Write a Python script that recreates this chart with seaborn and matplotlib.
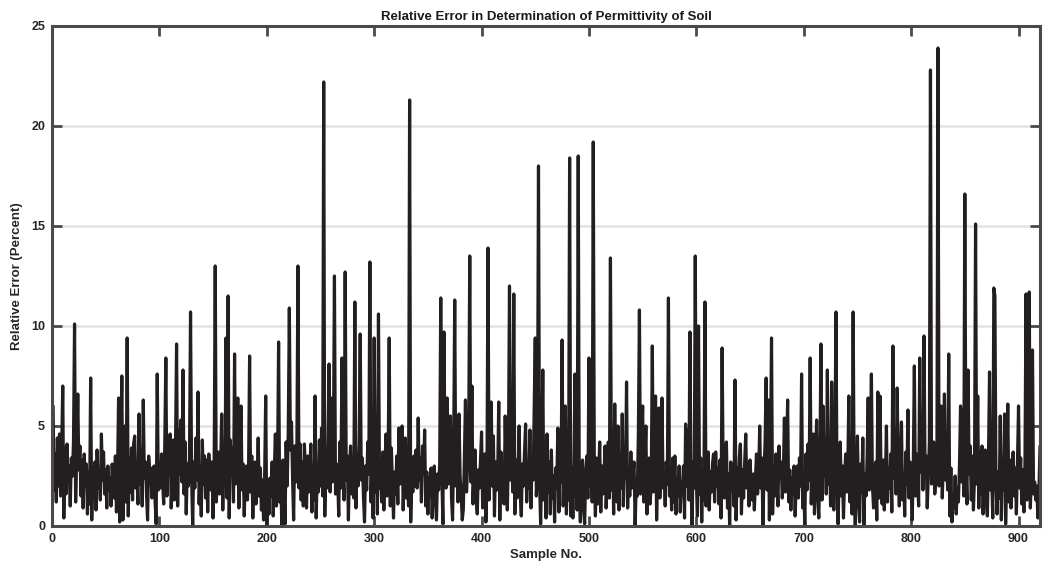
import numpy as np
import pandas as pd
import matplotlib
matplotlib.use("Agg")
import matplotlib.pyplot as plt
import seaborn as sns

title = "Relative Error in Determination of Permittivity of Soil"
x_label = "Sample No."
y_label = "Relative Error (Percent)"
x_ticks = [0, 100, 200, 300, 400, 500, 600, 700, 800, 900]
y_ticks = [0, 5, 10, 15, 20, 25]

# relative error (percent) for samples 1..920
rel_error = [
    6.0, 1.8, 3.6, 1.2, 4.4, 2.0, 4.6, 1.5, 3.8, 7.0, 0.4, 3.9, 1.6, 4.1, 2.2, 3.0, 1.0, 3.4, 2.5, 4.2,
    10.1, 1.2, 3.5, 6.6, 2.8, 4.0, 1.5, 3.3, 0.9, 3.6, 2.0, 3.1, 0.6, 2.7, 1.1, 7.4, 0.3, 2.9, 1.4, 3.2,
    0.8, 3.8, 1.9, 2.6, 1.3, 4.6, 2.3, 3.7, 1.6, 2.8, 0.9, 3.0, 1.8, 2.4, 1.0, 3.1, 2.2, 1.4, 3.5, 0.7,
    2.6, 6.4, 0.2, 3.3, 7.5, 0.3, 2.9, 5.0, 1.2, 9.4, 0.5, 3.4, 1.7, 3.9, 1.3, 4.1, 4.5, 1.9, 2.8, 1.1,
    5.6, 2.1, 3.8, 1.0, 6.3, 2.4, 3.2, 1.6, 0.3, 3.5, 2.7, 2.9, 1.4, 2.6, 3.0, 1.2, 0.1, 7.6, 1.8, 2.7,
    1.9, 3.6, 2.2, 1.1, 4.0, 8.4, 1.5, 3.3, 2.8, 4.6, 0.9, 2.5, 4.3, 1.3, 3.9, 9.1, 1.0, 4.8, 2.6, 5.3,
    2.2, 7.8, 1.6, 4.2, 0.6, 3.1, 2.0, 3.4, 10.7, 2.4, 0.0, 3.2, 1.9, 4.4, 2.3, 6.7, 1.1, 3.0, 0.5, 4.3,
    2.1, 3.5, 1.4, 3.3, 0.7, 3.6, 2.5, 1.8, 3.2, 0.4, 3.1, 13.0, 1.2, 2.8, 3.7, 1.6, 2.9, 5.6, 0.8, 3.3,
    2.0, 9.4, 1.4, 11.5, 0.4, 4.3, 2.7, 3.9, 1.2, 8.6, 2.1, 3.4, 6.4, 0.9, 2.6, 6.0, 1.8, 3.1, 0.5, 2.4,
    3.0, 1.3, 2.7, 8.5, 1.7, 3.5, 0.4, 2.6, 3.2, 1.1, 2.2, 4.4, 1.5, 2.9, 0.8, 2.3, 0.3, 2.5, 6.5, 0.0,
    2.1, 0.6, 2.4, 1.5, 3.2, 0.5, 2.7, 4.6, 1.0, 2.8, 9.2, 1.2, 2.4, 0.0, 3.3, 1.9, 0.1, 4.2, 2.0, 4.8,
    10.9, 3.8, 5.2, 2.4, 0.3, 4.0, 2.2, 3.6, 13.0, 1.9, 4.1, 1.3, 3.2, 1.0, 4.1, 2.8, 0.9, 3.5, 1.7, 2.6,
    4.1, 0.7, 3.0, 1.3, 6.5, 0.4, 2.9, 1.7, 4.3, 2.0, 4.9, 1.5, 22.2, 0.5, 3.8, 1.9, 4.3, 8.1, 1.7, 6.4,
    2.2, 3.6, 12.5, 1.6, 3.1, 2.4, 0.5, 4.2, 1.9, 8.4, 2.6, 1.3, 12.7, 2.3, 3.5, 0.3, 2.8, 4.0, 1.6, 3.2,
    1.4, 11.2, 0.9, 3.6, 2.0, 4.1, 9.6, 2.3, 3.4, 1.5, 0.2, 3.0, 1.8, 4.2, 2.6, 13.2, 1.2, 3.3, 0.4, 9.4,
    1.7, 3.6, 0.6, 10.6, 1.9, 2.5, 1.2, 3.7, 0.8, 2.9, 4.6, 1.5, 3.4, 9.4, 1.0, 3.9, 2.2, 0.4, 2.7, 1.6,
    3.5, 1.1, 4.9, 2.1, 3.3, 5.0, 0.8, 2.6, 4.4, 1.4, 3.0, 1.0, 21.3, 0.2, 2.4, 1.7, 3.5, 2.0, 3.8, 1.9,
    5.4, 2.3, 3.4, 1.2, 4.0, 2.6, 4.8, 1.0, 2.7, 0.6, 2.4, 1.5, 2.9, 0.4, 2.2, 3.0, 1.3, 0.3, 2.6, 1.8,
    3.1, 11.4, 2.5, 0.1, 9.7, 3.2, 1.9, 6.4, 2.1, 3.6, 5.5, 1.4, 0.3, 3.8, 11.3, 2.0, 4.1, 1.2, 5.6, 2.5,
    1.6, 0.3, 0.8, 3.4, 6.3, 1.7, 3.0, 4.4, 13.5, 2.2, 7.0, 1.1, 2.6, 3.8, 1.4, 0.6, 2.8, 1.9, 3.3, 4.7,
    0.9, 2.5, 3.6, 0.2, 2.1, 13.9, 1.3, 2.7, 6.2, 2.0, 4.5, 0.5, 3.2, 1.8, 2.6, 6.2, 0.3, 3.7, 1.5, 2.8,
    1.1, 5.5, 2.4, 0.8, 3.6, 12.0, 2.3, 4.1, 1.7, 11.6, 0.6, 3.3, 1.4, 2.8, 5.0, 1.6, 0.5, 3.1, 2.0, 3.7,
    5.1, 1.2, 2.9, 1.9, 4.8, 0.9, 3.4, 2.3, 5.9, 9.4, 1.5, 3.0, 18.0, 2.2, 0.1, 2.8, 7.8, 1.3, 3.5, 0.4,
    4.6, 1.7, 3.2, 0.6, 3.8, 1.4, 2.5, 0.2, 2.9, 1.9, 4.9, 0.7, 3.0, 2.2, 9.3, 1.0, 3.4, 6.0, 0.6, 2.7,
    1.3, 18.4, 0.5, 2.9, 0.4, 3.1, 7.6, 1.8, 0.8, 18.5, 1.6, 0.2, 2.5, 3.3, 0.9, 0.1, 2.7, 3.5, 1.4, 8.4,
    2.0, 4.6, 1.2, 19.2, 2.6, 0.5, 3.4, 1.1, 2.4, 4.2, 0.7, 3.0, 1.6, 2.6, 4.0, 0.9, 2.2, 4.2, 1.4, 13.4,
    1.8, 3.5, 0.6, 6.1, 2.3, 1.2, 5.0, 0.8, 3.6, 1.9, 5.6, 1.0, 3.1, 2.4, 7.2, 0.9, 2.8, 1.5, 3.7, 1.9,
    2.6, 3.2, 0.0, 2.1, 1.5, 4.6, 10.8, 1.6, 3.7, 6.0, 1.2, 2.9, 5.0, 0.6, 2.4, 3.4, 1.1, 2.2, 9.0, 1.7,
    3.0, 6.5, 0.3, 2.8, 5.9, 1.4, 3.3, 6.4, 1.9, 2.6, 1.0, 3.2, 2.1, 11.4, 1.5, 2.7, 0.8, 3.4, 1.2, 3.5,
    0.6, 2.4, 1.5, 3.0, 0.7, 2.2, 1.8, 3.0, 0.4, 5.1, 2.0, 4.8, 1.3, 9.7, 2.2, 0.0, 3.2, 1.9, 13.5, 2.4,
    0.5, 10.0, 1.6, 3.4, 0.2, 2.8, 1.3, 11.2, 1.0, 2.5, 3.7, 0.8, 2.7, 1.7, 3.1, 3.6, 1.2, 3.7, 2.0, 2.9,
    1.1, 3.3, 0.4, 8.9, 2.4, 1.4, 3.0, 4.2, 0.9, 2.6, 0.0, 3.2, 1.8, 2.7, 1.0, 7.3, 0.3, 2.9, 1.5, 3.4,
    4.1, 0.6, 2.8, 1.4, 3.2, 4.6, 1.9, 3.1, 1.0, 3.3, 2.1, 1.3, 2.6, 0.8, 2.3, 3.6, 1.6, 2.5, 5.0, 1.9,
    3.4, 0.0, 2.7, 4.2, 7.4, 1.8, 6.3, 0.3, 3.5, 9.4, 0.6, 2.9, 1.5, 3.6, 2.2, 1.0, 4.0, 2.4, 3.2, 1.4,
    2.6, 5.4, 1.7, 3.3, 6.3, 1.2, 2.8, 0.8, 2.4, 1.6, 3.0, 0.5, 2.2, 3.0, 1.4, 3.4, 2.0, 7.6, 0.9, 2.1,
    0.0, 3.6, 1.8, 4.1, 2.3, 8.4, 1.1, 3.0, 4.6, 0.6, 3.4, 5.3, 1.5, 0.4, 2.8, 9.1, 1.3, 6.0, 2.5, 3.9,
    1.6, 7.8, 2.1, 3.5, 1.0, 7.2, 2.6, 0.8, 3.8, 10.7, 1.9, 0.1, 2.7, 4.2, 1.5, 3.0, 0.4, 2.3, 3.6, 1.7,
    2.9, 6.5, 1.2, 3.3, 0.6, 10.7, 1.8, 0.0, 2.5, 4.5, 1.3, 0.2, 3.1, 1.7, 4.4, 0.0, 2.6, 1.5, 3.4, 6.4,
    1.8, 3.9, 7.6, 2.0, 0.9, 2.7, 3.2, 0.3, 6.7, 1.4, 6.5, 2.5, 1.1, 3.3, 0.8, 2.2, 5.0, 1.2, 2.9, 1.9,
    3.6, 0.7, 9.0, 2.4, 3.1, 1.6, 6.9, 2.8, 1.0, 3.4, 5.2, 1.3, 2.6, 0.5, 3.7, 2.1, 5.8, 1.4, 3.2, 2.0,
    0.3, 3.0, 8.0, 1.5, 3.6, 2.2, 1.0, 8.4, 2.7, 4.3, 1.8, 9.5, 2.4, 3.5, 0.9, 2.6, 4.2, 22.8, 2.1, 3.3,
    4.2, 1.6, 2.4, 3.0, 23.9, 2.0, 3.7, 6.0, 1.4, 3.2, 6.6, 2.3, 3.5, 1.8, 8.6, 0.5, 2.9, 0.2, 1.6, 0.9,
    2.5, 0.6, 1.9, 1.2, 3.0, 6.0, 2.2, 5.8, 1.5, 16.6, 3.0, 1.1, 7.8, 2.6, 4.0, 1.3, 3.5, 0.8, 2.4, 15.1,
    2.1, 6.5, 0.9, 3.7, 1.6, 4.0, 0.6, 2.8, 3.8, 1.2, 0.5, 3.4, 7.7, 1.8, 2.6, 0.4, 11.9, 11.5, 2.0, 0.6,
    2.7, 1.4, 5.5, 0.3, 3.0, 1.8, 5.6, 0.1, 2.4, 6.1, 1.2, 3.3, 0.9, 2.6, 3.7, 1.5, 2.9, 0.6, 3.1, 6.0,
    1.9, 3.4, 1.1, 2.8, 0.7, 3.2, 11.6, 1.3, 3.0, 11.7, 0.9, 2.5, 8.8, 1.6, 2.2, 1.3, 2.0, 0.4, 1.7, 4.0,
]
sample_no = list(range(1, len(rel_error) + 1))

df = pd.DataFrame({"sample": sample_no, "error": rel_error})

sns.set_theme(style="white")
plt.rcParams["font.family"] = ["Liberation Sans", "DejaVu Sans"]
plt.rcParams["font.weight"] = "bold"

fig = plt.figure(figsize=(10.44, 5.73), dpi=100)
ax = fig.add_axes([52 / 1044, 1 - 526 / 573, (1040 - 52) / 1044, 500 / 573])

axis_col = "#4a4a4a"
ax.set_axisbelow(True)
for y in y_ticks[1:-1]:
    ax.axhline(y, color="#e3e3e3", linewidth=1.8, zorder=0)

sns.lineplot(data=df, x="sample", y="error", ax=ax, color="#231f20",
             linewidth=2.3, estimator=None, zorder=3)

ax.set_xlim(0, 920)
ax.set_ylim(0, 25)
ax.set_xticks(x_ticks)
ax.set_yticks(y_ticks)
ax.set_xticklabels([str(t) for t in x_ticks], fontsize=9, fontweight="bold", color="#262626")
ax.set_yticklabels([str(t) for t in y_ticks], fontsize=9, fontweight="bold", color="#262626")

for s in ax.spines.values():
    s.set_visible(True)
    s.set_color(axis_col)
    s.set_linewidth(2.2)
    s.set_zorder(5)

ax.tick_params(axis="both", which="major", direction="in", length=7, width=2,
               color=axis_col, top=True, right=True, bottom=True, left=True)
ax.tick_params(axis="x", pad=5)
ax.tick_params(axis="y", pad=5)

ax.set_title(title, fontsize=9.5, fontweight="bold", color="#1a1a1a", pad=4)
ax.set_xlabel(x_label, fontsize=9.5, fontweight="bold", color="#262626", labelpad=3)
ax.set_ylabel(y_label, fontsize=9.5, fontweight="bold", color="#262626", labelpad=6)

fig.savefig("out.png", dpi=100)
